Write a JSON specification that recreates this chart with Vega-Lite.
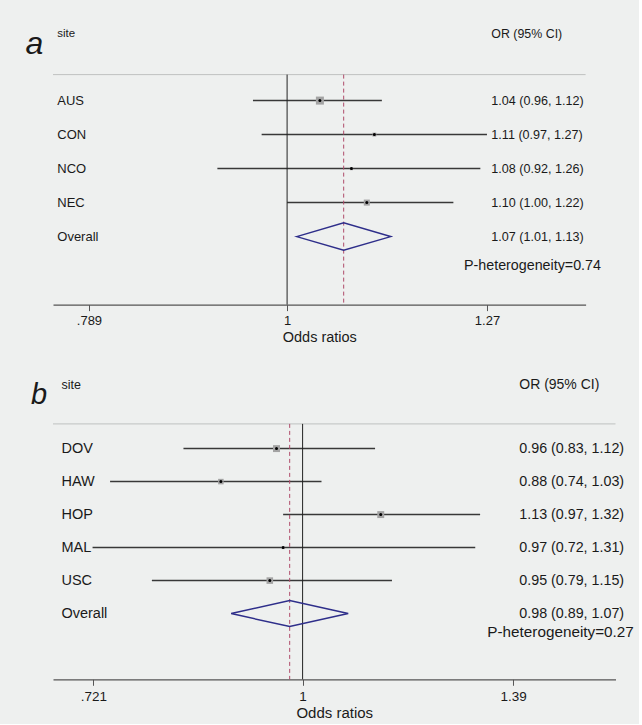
{
  "$schema": "https://vega.github.io/schema/vega-lite/v6.json",
  "background": "#eef0ef",
  "padding": {"left": 25, "top": 27.6, "right": 5, "bottom": 2},
  "bounds": "flush",
  "spacing": 119.3,
  "config": {
    "view": {"stroke": null},
    "font": "Liberation Sans",
    "text": {"color": "#1a1a1a"},
    "axisX": {"grid": false, "domainColor": "#555555", "domainWidth": 1.2, "tickColor": "#555555", "tickSize": 6, "labelColor": "#1a1a1a", "labelPadding": 4, "titleFontWeight": "normal", "titleColor": "#1a1a1a", "titlePadding": 3}
  },
  "resolve": {"scale": {"x": "independent", "y": "independent", "size": "independent"}},
  "vconcat": [
    {
      "width": 532.6,
      "height": 230,
      "data": {"values": [
        {"site": "AUS", "row": 1, "or": 1.04, "lo": 0.96, "hi": 1.12, "w": 51, "label": "1.04 (0.96, 1.12)"},
        {"site": "CON", "row": 2, "or": 1.11, "lo": 0.97, "hi": 1.27, "w": 12, "label": "1.11 (0.97, 1.27)"},
        {"site": "NCO", "row": 3, "or": 1.08, "lo": 0.92, "hi": 1.26, "w": 8, "label": "1.08 (0.92, 1.26)"},
        {"site": "NEC", "row": 4, "or": 1.10, "lo": 1.00, "hi": 1.22, "w": 29, "label": "1.10 (1.00, 1.22)"},
        {"site": "Overall", "row": 5, "or": 1.07, "lo": 1.01, "hi": 1.13, "w": 0, "label": "1.07 (1.01, 1.13)"}
      ]},
      "layer": [
        {
          "data": {"values": [{"k": 1}]},
          "mark": {"type": "rule", "color": "#bfc1c0", "strokeWidth": 1},
          "encoding": {"y": {"datum": 0.2353, "scale": {"domain": [0.2353, 7.0], "reverse": true, "nice": false, "zero": false}, "axis": null}}
        },
        {
          "transform": [{"filter": "datum.site != 'Overall'"}],
          "mark": {"type": "rule", "color": "#383838", "strokeWidth": 1.5},
          "encoding": {
            "x": {"field": "lo", "type": "quantitative",
              "scale": {"type": "log", "domain": [0.7558, 1.429], "nice": false, "zero": false},
              "axis": {"values": [0.789, 1, 1.27], "labelExpr": "datum.value < 1 ? substring(format(datum.value, '.3~f'), 1) : format(datum.value, '.3~f')", "title": "Odds ratios", "labelFontSize": 13, "titleFontSize": 14.5}},
            "x2": {"field": "hi"},
            "y": {"field": "row", "type": "quantitative", "axis": null}
          }
        },
        {
          "data": {"values": [{"k": 1}]},
          "mark": {"type": "rule", "color": "#222222", "strokeWidth": 1},
          "encoding": {"x": {"datum": 1, "type": "quantitative"}}
        },
        {
          "transform": [{"filter": "datum.site == 'Overall'"}],
          "mark": {"type": "rule", "color": "#b04a6a", "strokeWidth": 1, "strokeDash": [4, 3]},
          "encoding": {"x": {"field": "or", "type": "quantitative"}}
        },
        {
          "transform": [{"filter": "datum.site != 'Overall'"}],
          "mark": {"type": "point", "shape": "square", "filled": true, "color": "#a3a3a3", "opacity": 1},
          "encoding": {
            "x": {"field": "or", "type": "quantitative"},
            "y": {"field": "row", "type": "quantitative", "axis": null},
            "size": {"field": "w", "type": "quantitative", "scale": {"domain": [0, 100], "range": [0, 126]}, "legend": null}
          }
        },
        {
          "transform": [{"filter": "datum.site != 'Overall'"}],
          "mark": {"type": "point", "shape": "circle", "filled": true, "color": "#000000", "size": 9, "opacity": 1},
          "encoding": {
            "x": {"field": "or", "type": "quantitative"},
            "y": {"field": "row", "type": "quantitative", "axis": null}
          }
        },
        {
          "transform": [{"filter": "datum.site == 'Overall'"}],
          "mark": {"type": "point", "shape": "M-1,0L0,-0.2915L1,0L0,0.2915Z", "filled": false, "stroke": "#2e2e8a", "strokeWidth": 1.5, "size": 8836, "opacity": 1},
          "encoding": {
            "x": {"field": "or", "type": "quantitative"},
            "y": {"field": "row", "type": "quantitative", "axis": null}
          }
        },
        {
          "mark": {"type": "text", "align": "left", "baseline": "middle", "fontSize": 13},
          "encoding": {
            "x": {"datum": 0.7597, "type": "quantitative"},
            "y": {"field": "row", "type": "quantitative", "axis": null},
            "text": {"field": "site"}
          }
        },
        {
          "mark": {"type": "text", "align": "left", "baseline": "middle", "fontSize": 12.6},
          "encoding": {
            "x": {"datum": 1.2767, "type": "quantitative"},
            "y": {"field": "row", "type": "quantitative", "axis": null},
            "text": {"field": "label"}
          }
        },
        {
          "data": {"values": [{"t": "site"}]},
          "mark": {"type": "text", "align": "left", "baseline": "middle", "fontSize": 11.5},
          "encoding": {"x": {"datum": 0.7597, "type": "quantitative"}, "y": {"datum": -0.97, "axis": null}, "text": {"field": "t"}}
        },
        {
          "data": {"values": [{"t": "OR (95% CI)"}]},
          "mark": {"type": "text", "align": "left", "baseline": "middle", "fontSize": 12.4},
          "encoding": {"x": {"datum": 1.2767, "type": "quantitative"}, "y": {"datum": -0.97, "axis": null}, "text": {"field": "t"}}
        },
        {
          "data": {"values": [{"t": "P-heterogeneity=0.74"}]},
          "mark": {"type": "text", "align": "left", "baseline": "middle", "fontSize": 14.3},
          "encoding": {"x": {"datum": 1.2356, "type": "quantitative"}, "y": {"datum": 5.853, "axis": null}, "text": {"field": "t"}}
        },
        {
          "data": {"values": [{"t": "a"}]},
          "mark": {"type": "text", "align": "left", "baseline": "alphabetic", "fontSize": 32, "fontStyle": "italic"},
          "encoding": {"x": {"datum": 0.7314, "type": "quantitative"}, "y": {"datum": -0.382, "axis": null}, "text": {"field": "t"}}
        }
      ]
    },
    {
      "width": 562.5,
      "height": 255.4,
      "data": {"values": [
        {"site": "DOV", "row": 1, "or": 0.96, "lo": 0.83, "hi": 1.12, "w": 27, "label": "0.96 (0.83, 1.12)"},
        {"site": "HAW", "row": 2, "or": 0.88, "lo": 0.74, "hi": 1.03, "w": 17, "label": "0.88 (0.74, 1.03)"},
        {"site": "HOP", "row": 3, "or": 1.13, "lo": 0.97, "hi": 1.32, "w": 27, "label": "1.13 (0.97, 1.32)"},
        {"site": "MAL", "row": 4, "or": 0.97, "lo": 0.72, "hi": 1.31, "w": 5, "label": "0.97 (0.72, 1.31)"},
        {"site": "USC", "row": 5, "or": 0.95, "lo": 0.79, "hi": 1.15, "w": 24, "label": "0.95 (0.79, 1.15)"},
        {"site": "Overall", "row": 6, "or": 0.98, "lo": 0.89, "hi": 1.07, "w": 0, "label": "0.98 (0.89, 1.07)"}
      ]},
      "layer": [
        {
          "data": {"values": [{"k": 1}]},
          "mark": {"type": "rule", "color": "#bfc1c0", "strokeWidth": 1},
          "encoding": {"y": {"datum": 0.2515, "scale": {"domain": [0.2515, 7.991], "reverse": true, "nice": false, "zero": false}, "axis": null}}
        },
        {
          "transform": [{"filter": "datum.site != 'Overall'"}],
          "mark": {"type": "rule", "color": "#383838", "strokeWidth": 1.5},
          "encoding": {
            "x": {"field": "lo", "type": "quantitative",
              "scale": {"type": "log", "domain": [0.6768, 1.6313], "nice": false, "zero": false},
              "axis": {"values": [0.721, 1, 1.39], "labelExpr": "datum.value < 1 ? substring(format(datum.value, '.3~f'), 1) : format(datum.value, '.3~f')", "title": "Odds ratios", "labelFontSize": 13.5, "titleFontSize": 15}},
            "x2": {"field": "hi"},
            "y": {"field": "row", "type": "quantitative", "axis": null}
          }
        },
        {
          "data": {"values": [{"k": 1}]},
          "mark": {"type": "rule", "color": "#222222", "strokeWidth": 1},
          "encoding": {"x": {"datum": 1, "type": "quantitative"}}
        },
        {
          "transform": [{"filter": "datum.site == 'Overall'"}],
          "mark": {"type": "rule", "color": "#b04a6a", "strokeWidth": 1, "strokeDash": [4, 3]},
          "encoding": {"x": {"field": "or", "type": "quantitative"}}
        },
        {
          "transform": [{"filter": "datum.site != 'Overall'"}],
          "mark": {"type": "point", "shape": "square", "filled": true, "color": "#a3a3a3", "opacity": 1},
          "encoding": {
            "x": {"field": "or", "type": "quantitative"},
            "y": {"field": "row", "type": "quantitative", "axis": null},
            "size": {"field": "w", "type": "quantitative", "scale": {"domain": [0, 100], "range": [0, 179]}, "legend": null}
          }
        },
        {
          "transform": [{"filter": "datum.site != 'Overall'"}],
          "mark": {"type": "point", "shape": "circle", "filled": true, "color": "#000000", "size": 9, "opacity": 1},
          "encoding": {
            "x": {"field": "or", "type": "quantitative"},
            "y": {"field": "row", "type": "quantitative", "axis": null}
          }
        },
        {
          "transform": [{"filter": "datum.site == 'Overall'"}],
          "mark": {"type": "point", "shape": "M-1,0L0,-0.222L1,0L0,0.222Z", "filled": false, "stroke": "#2e2e8a", "strokeWidth": 1.5, "size": 13689, "opacity": 1},
          "encoding": {
            "x": {"field": "or", "type": "quantitative"},
            "y": {"field": "row", "type": "quantitative", "axis": null}
          }
        },
        {
          "mark": {"type": "text", "align": "left", "baseline": "middle", "fontSize": 14.5},
          "encoding": {
            "x": {"datum": 0.6858, "type": "quantitative"},
            "y": {"field": "row", "type": "quantitative", "axis": null},
            "text": {"field": "site"}
          }
        },
        {
          "mark": {"type": "text", "align": "left", "baseline": "middle", "fontSize": 14.3},
          "encoding": {
            "x": {"datum": 1.4034, "type": "quantitative"},
            "y": {"field": "row", "type": "quantitative", "axis": null},
            "text": {"field": "label"}
          }
        },
        {
          "data": {"values": [{"t": "site"}]},
          "mark": {"type": "text", "align": "left", "baseline": "middle", "fontSize": 12.5},
          "encoding": {"x": {"datum": 0.6858, "type": "quantitative"}, "y": {"datum": -0.939, "axis": null}, "text": {"field": "t"}}
        },
        {
          "data": {"values": [{"t": "OR (95% CI)"}]},
          "mark": {"type": "text", "align": "left", "baseline": "middle", "fontSize": 14},
          "encoding": {"x": {"datum": 1.4034, "type": "quantitative"}, "y": {"datum": -0.939, "axis": null}, "text": {"field": "t"}}
        },
        {
          "data": {"values": [{"t": "P-heterogeneity=0.27"}]},
          "mark": {"type": "text", "align": "left", "baseline": "middle", "fontSize": 15.3},
          "encoding": {"x": {"datum": 1.3349, "type": "quantitative"}, "y": {"datum": 6.567, "axis": null}, "text": {"field": "t"}}
        },
        {
          "data": {"values": [{"t": "b"}]},
          "mark": {"type": "text", "align": "left", "baseline": "alphabetic", "fontSize": 29, "fontStyle": "italic"},
          "encoding": {"x": {"datum": 0.6539, "type": "quantitative"}, "y": {"datum": -0.364, "axis": null}, "text": {"field": "t"}}
        }
      ]
    }
  ]
}
